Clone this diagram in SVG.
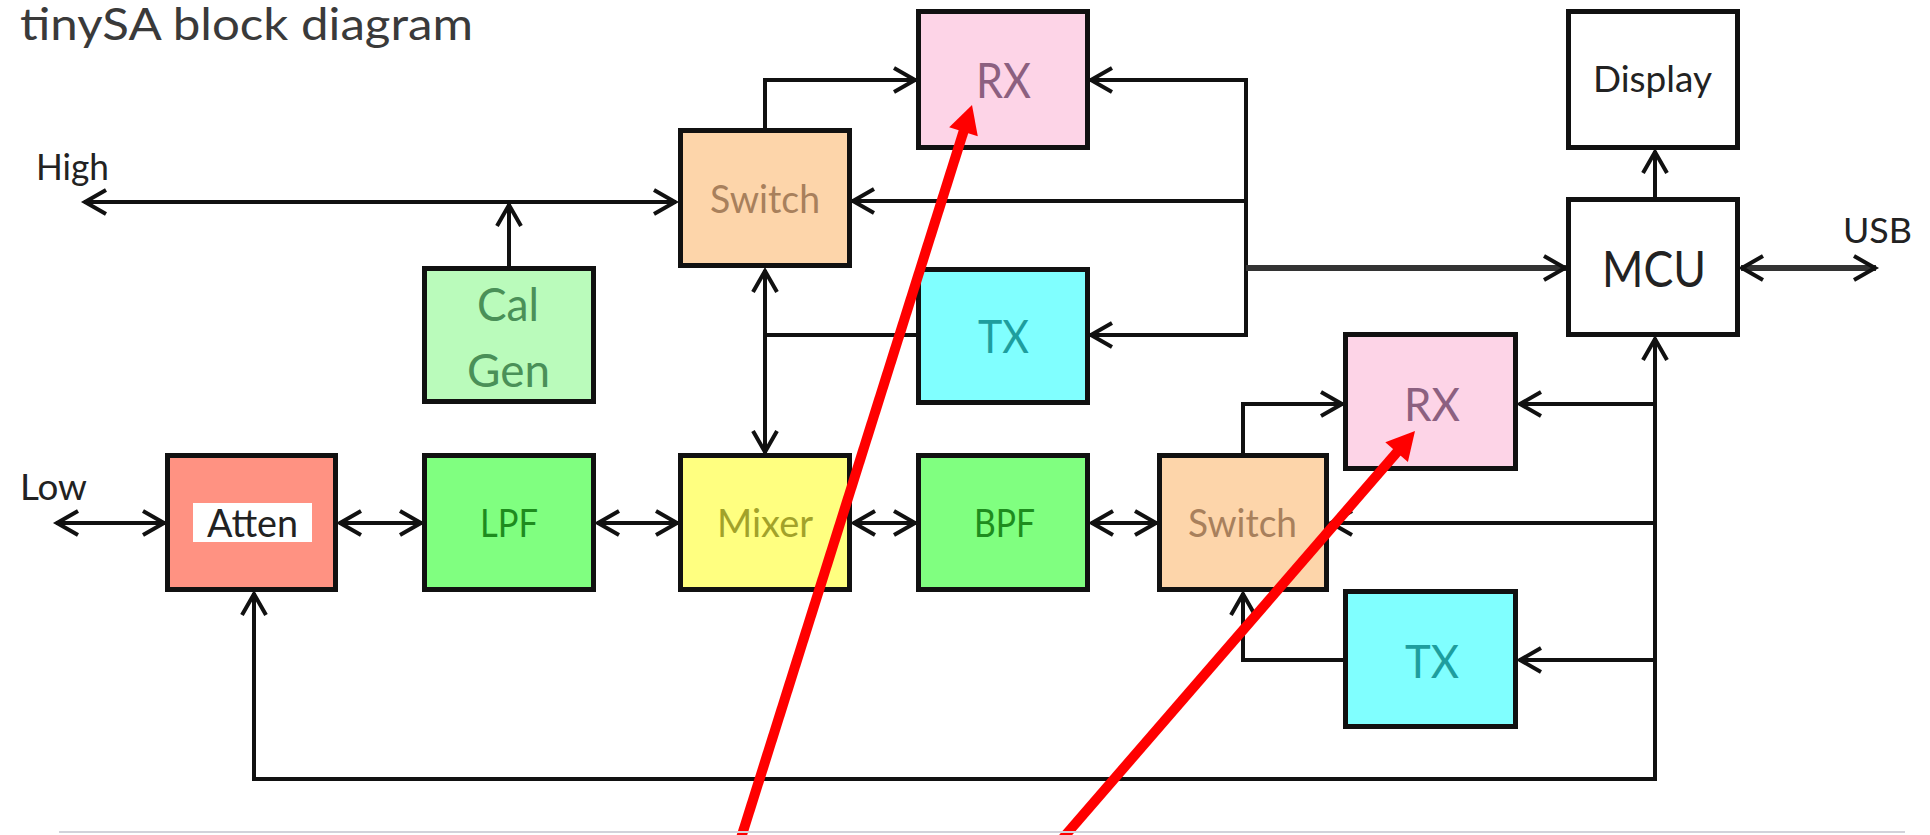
<svg xmlns="http://www.w3.org/2000/svg" width="1930" height="835" viewBox="0 0 1930 835">
<style>
text{font-family:Lato,"Liberation Sans",sans-serif;}
.box{stroke:#111;stroke-width:5;}
.w{fill:#fff;}
.rx{fill:#fdd4e7;}
.sw{fill:#fdd5aa;}
.cal{fill:#bafbbb;}
.tx{fill:#80ffff;}
.att{fill:#ff9282;}
.grn{fill:#80ff80;}
.mix{fill:#ffff80;}
.c{fill:none;stroke:#111;stroke-width:4;}
.thick{stroke:#333;stroke-width:6;}
.lbl{fill:#222;}
.t-rx{fill:#8c6080;text-anchor:middle;}
.t-sw{fill:#a8805c;text-anchor:middle;}
.t-cal{fill:#4a9058;text-anchor:middle;}
.t-tx{fill:#1e9e9e;text-anchor:middle;}
.t-g{fill:#1e8c1e;text-anchor:middle;}
.t-mix{fill:#a2a22a;text-anchor:middle;}
.t-k{fill:#222;text-anchor:middle;}
.red{stroke:#ff0000;stroke-width:10;fill:none;}
</style>
<defs>
<marker id="a" markerUnits="userSpaceOnUse" markerWidth="40" markerHeight="40" viewBox="-30 -20 40 40" refX="0" refY="0" orient="auto-start-reverse" overflow="visible">
<path d="M-22,-12 L-1,0 L-22,12" fill="none" stroke="#111" stroke-width="4"/>
</marker>
</defs>
<rect width="1930" height="835" fill="#fff"/>
<text x="20" y="40" font-size="44" textLength="453" lengthAdjust="spacingAndGlyphs" fill="#3a3a3a">tinySA block diagram</text>
<text class="lbl" x="36" y="180" font-size="36" textLength="73" lengthAdjust="spacingAndGlyphs">High</text>
<text class="lbl" x="20" y="500" font-size="37" textLength="67" lengthAdjust="spacingAndGlyphs">Low</text>
<text class="lbl" x="1843" y="243" font-size="35" textLength="69" lengthAdjust="spacingAndGlyphs">USB</text>

<g id="connectors">
<path class="c" d="M84,202 H676" marker-start="url(#a)" marker-end="url(#a)"/>
<path class="c" d="M509,266 V204" marker-end="url(#a)"/>
<path class="c" d="M765,128 V80 H916" marker-end="url(#a)"/>
<path class="c" d="M1246,80 H1090" marker-end="url(#a)"/>
<path class="c" d="M1246,201 H852" marker-end="url(#a)"/>
<path class="c" d="M1246,335 H1090" marker-end="url(#a)"/>
<path class="c" d="M1246,78 V337"/>
<path class="c thick" d="M1246,268 H1566" marker-end="url(#a)"/>
<path class="c" d="M916,335 H765"/>
<path class="c" d="M765,270 V453" marker-start="url(#a)" marker-end="url(#a)"/>
<path class="c" d="M1655,197 V151" marker-end="url(#a)"/>
<path class="c thick" d="M1741,268 H1876" marker-start="url(#a)" marker-end="url(#a)"/>
<path class="c" d="M1655,781 V338" marker-end="url(#a)"/>
<path class="c" d="M1655,404 H1519" marker-end="url(#a)"/>
<path class="c" d="M1655,523 H1330" marker-end="url(#a)"/>
<path class="c" d="M1655,660 H1519" marker-end="url(#a)"/>
<path class="c" d="M1657,779 H254 V593" marker-end="url(#a)"/>
<path class="c" d="M1243,453 V404 H1343" marker-end="url(#a)"/>
<path class="c" d="M1343,660 H1243 V593" marker-end="url(#a)"/>
<path class="c" d="M56,523 H165" marker-start="url(#a)" marker-end="url(#a)"/>
<path class="c" d="M339,523 H422" marker-start="url(#a)" marker-end="url(#a)"/>
<path class="c" d="M597,523 H678" marker-start="url(#a)" marker-end="url(#a)"/>
<path class="c" d="M853,523 H916" marker-start="url(#a)" marker-end="url(#a)"/>
<path class="c" d="M1091,523 H1157" marker-start="url(#a)" marker-end="url(#a)"/>
</g>

<g id="rx1"><rect class="box rx" x="918.5" y="11.5" width="169" height="136"/><text class="t-rx" x="1003.5" y="98" font-size="48" textLength="55" lengthAdjust="spacingAndGlyphs">RX</text></g>
<g id="switch1"><rect class="box sw" x="680.5" y="130.5" width="169" height="135"/><text class="t-sw" x="765" y="213" font-size="38" textLength="110" lengthAdjust="spacingAndGlyphs">Switch</text></g>
<g id="calgen"><rect class="box cal" x="424.5" y="268.5" width="169" height="133"/><text class="t-cal" x="508" y="321" font-size="46" textLength="62" lengthAdjust="spacingAndGlyphs">Cal</text><text class="t-cal" x="508.5" y="387" font-size="46" textLength="83" lengthAdjust="spacingAndGlyphs">Gen</text></g>
<g id="tx1"><rect class="box tx" x="918.5" y="269.5" width="169" height="133"/><text class="t-tx" x="1003.5" y="353" font-size="46" textLength="51" lengthAdjust="spacingAndGlyphs">TX</text></g>
<g id="display"><rect class="box w" x="1568.5" y="11.5" width="169" height="136"/><text class="t-k" x="1652.5" y="92" font-size="37" textLength="119" lengthAdjust="spacingAndGlyphs">Display</text></g>
<g id="mcu"><rect class="box w" x="1568.5" y="199.5" width="169" height="135"/><text class="t-k" x="1654" y="287" font-size="51" textLength="104" lengthAdjust="spacingAndGlyphs">MCU</text></g>
<g id="rx2"><rect class="box rx" x="1345.5" y="334.5" width="170" height="134"/><text class="t-rx" x="1432" y="421" font-size="46" textLength="56" lengthAdjust="spacingAndGlyphs">RX</text></g>
<g id="atten"><rect class="box att" x="167.5" y="455.5" width="168" height="134"/><rect x="193" y="503" width="119" height="39" fill="#fff"/><text class="t-k" x="252.5" y="537" font-size="38" textLength="91" lengthAdjust="spacingAndGlyphs">Atten</text></g>
<g id="lpf"><rect class="box grn" x="424.5" y="455.5" width="169" height="134"/><text class="t-g" x="509" y="537" font-size="38" textLength="58" lengthAdjust="spacingAndGlyphs">LPF</text></g>
<g id="mixer"><rect class="box mix" x="680.5" y="455.5" width="169" height="134"/><text class="t-mix" x="765" y="537" font-size="38" textLength="96" lengthAdjust="spacingAndGlyphs">Mixer</text></g>
<g id="bpf"><rect class="box grn" x="918.5" y="455.5" width="169" height="134"/><text class="t-g" x="1004.5" y="537" font-size="38" textLength="61" lengthAdjust="spacingAndGlyphs">BPF</text></g>
<g id="switch2"><rect class="box sw" x="1159.5" y="455.5" width="167" height="134"/><text class="t-sw" x="1242.5" y="537" font-size="38" textLength="109" lengthAdjust="spacingAndGlyphs">Switch</text></g>
<g id="tx2"><rect class="box tx" x="1345.5" y="591.5" width="170" height="135"/><text class="t-tx" x="1432" y="678" font-size="46" textLength="54" lengthAdjust="spacingAndGlyphs">TX</text></g>

<g id="annotations">
<line class="red" x1="741" y1="838" x2="964" y2="130"/>
<polygon points="972,105 977.8,136.2 949.2,127.2" fill="#ff0000"/>
<line class="red" x1="1063" y1="838" x2="1398" y2="451"/>
<polygon points="1415,431 1407.9,462 1385.3,442.2" fill="#ff0000"/>
</g>
<line x1="59" y1="832" x2="1905" y2="832" stroke="#d2d2da" stroke-width="2"/>
</svg>
